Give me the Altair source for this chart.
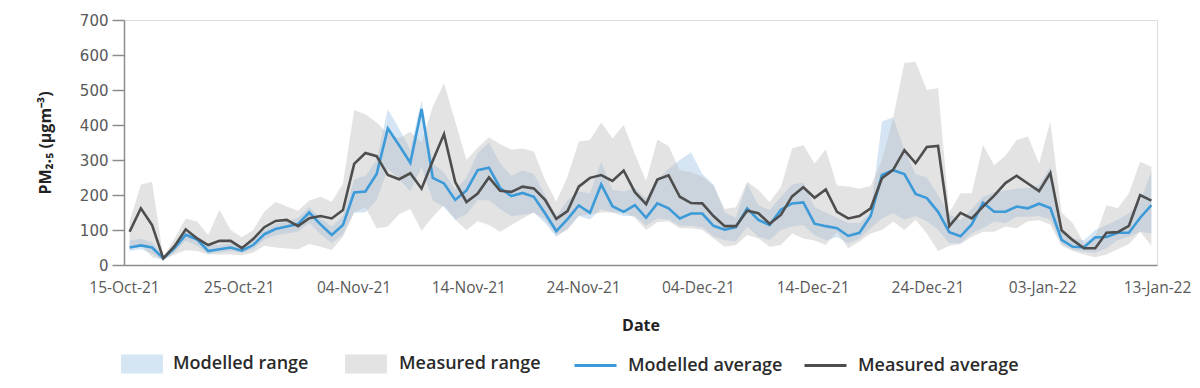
import json
import altair as alt
import pandas as pd

# ---------------- data ----------------
start_date = "2021-10-15"
n_days = 92
dates = pd.date_range(start_date, periods=n_days, freq="D")

tick_labels = ["15-Oct-21", "25-Oct-21", "04-Nov-21", "14-Nov-21", "24-Nov-21",
               "04-Dec-21", "14-Dec-21", "24-Dec-21", "03-Jan-22", "13-Jan-22"]

measured_avg = [95, 162, 114, 19, 54, 102, 76, 57, 69, 69,
                48, 74, 108, 126, 129, 111, 134, 140, 133, 157,
                289, 320, 311, 257, 245, 262, 218, 298, 374, 237,
                180, 204, 250, 212, 209, 224, 219, 186, 132, 154,
                224, 249, 257, 240, 270, 208, 174, 244, 256, 195,
                177, 176, 140, 111, 111, 155, 148, 118, 143, 196,
                222, 192, 216, 152, 133, 140, 162, 248, 272, 328,
                291, 337, 340, 111, 149, 133, 167, 198, 234, 255,
                233, 211, 263, 99, 71, 48, 48, 92, 94, 112,
                200, 184]

modelled_avg = [50, 56, 50, 19, 48, 86, 73, 40, 45, 50,
                41, 57, 88, 103, 110, 117, 150, 116, 86, 114,
                207, 210, 260, 390, 342, 292, 446, 249, 233, 186,
                213, 271, 278, 220, 197, 206, 195, 148, 97, 131,
                170, 149, 230, 168, 152, 171, 135, 176, 162, 133,
                147, 147, 112, 101, 108, 162, 129, 114, 158, 176,
                179, 118, 111, 105, 83, 92, 140, 257, 271, 260,
                203, 191, 152, 94, 82, 116, 178, 152, 152, 167,
                162, 175, 163, 72, 52, 51, 79, 80, 92, 92,
                135, 171]

measured_max = [124, 229, 238, 22, 76, 133, 124, 86, 157, 100,
                79, 100, 152, 181, 167, 155, 184, 195, 181, 233,
                443, 431, 407, 376, 362, 381, 350, 452, 519, 410,
                300, 335, 365, 345, 330, 333, 324, 243, 181, 252,
                352, 357, 407, 362, 400, 317, 240, 358, 340, 271,
                265, 252, 227, 160, 165, 238, 214, 180, 222, 333,
                343, 290, 331, 227, 224, 218, 226, 300, 420, 577,
                581, 500, 505, 150, 205, 205, 343, 285, 312, 357,
                367, 290, 410, 150, 119, 62, 81, 171, 162, 205,
                295, 281]

measured_min = [45, 60, 22, 14, 30, 42, 40, 30, 30, 30,
                28, 35, 55, 50, 47, 45, 60, 52, 43, 81,
                150, 165, 105, 110, 145, 160, 98, 138, 171, 129,
                100, 125, 114, 95, 114, 133, 150, 130, 85, 100,
                140, 145, 150, 150, 150, 135, 100, 122, 125, 105,
                105, 100, 76, 52, 57, 86, 76, 52, 57, 90,
                76, 70, 57, 95, 48, 67, 90, 100, 124, 100,
                129, 90, 40, 55, 60, 80, 95, 95, 110, 105,
                125, 128, 115, 55, 40, 30, 22, 30, 45, 60,
                95, 55]

modelled_max = [70, 75, 65, 24, 60, 95, 85, 55, 58, 62,
                55, 70, 100, 118, 125, 135, 165, 135, 110, 140,
                245, 255, 300, 445, 390, 330, 470, 290, 265, 215,
                250, 320, 350, 290, 255, 270, 260, 200, 140, 185,
                210, 205, 295, 215, 210, 220, 190, 245, 275, 300,
                322, 260, 230, 150, 135, 233, 171, 157, 195, 230,
                236, 165, 150, 135, 120, 120, 150, 410, 422, 330,
                260, 250, 200, 145, 128, 160, 195, 208, 213, 218,
                220, 228, 281, 100, 76, 71, 100, 114, 129, 148,
                181, 267]

modelled_min = [40, 45, 32, 14, 35, 70, 55, 32, 36, 40,
                34, 45, 72, 85, 90, 95, 120, 88, 62, 88,
                150, 150, 185, 275, 245, 210, 280, 185, 165, 130,
                145, 185, 185, 160, 140, 143, 150, 120, 80, 105,
                140, 130, 160, 150, 140, 140, 112, 133, 130, 112,
                112, 108, 82, 71, 67, 110, 81, 71, 100, 110,
                114, 85, 71, 80, 62, 75, 105, 133, 148, 130,
                140, 125, 100, 62, 62, 90, 105, 124, 119, 138,
                138, 140, 129, 60, 43, 38, 35, 48, 71, 81,
                95, 90]

band_names = ["Modelled range", "Measured range"]
band_colors = ["#d6e5f4", "#bdbdbd"]
measured_band_opacity = 0.42
line_names = ["Modelled average", "Measured average"]
line_colors = ["#3d9ad8", "#4e4e4e"]

day = list(range(n_days))
rng_mod = pd.DataFrame({"day": day, "date": dates, "band": band_names[0],
                        "lo": modelled_min, "hi": modelled_max})
rng_meas = pd.DataFrame({"day": day, "date": dates, "band": band_names[1],
                         "lo": measured_min, "hi": measured_max})
avg_mod = pd.DataFrame({"day": day, "date": dates, "series": line_names[0],
                        "value": modelled_avg})
avg_meas = pd.DataFrame({"day": day, "date": dates, "series": line_names[1],
                         "value": measured_avg})

# ---------------- encodings ----------------
FONT = "Open Sans"
n_ticks = len(tick_labels)
tick_pos = [-0.5 + k * n_days / (n_ticks - 1) for k in range(n_ticks)]
label_expr = (json.dumps(tick_labels)
              + f"[round((datum.value + 0.5) * {n_ticks - 1} / {n_days})]")

x_enc = alt.X(
    "day:Q",
    scale=alt.Scale(domain=[-0.5, n_days - 0.5], nice=False, zero=False),
    axis=alt.Axis(values=tick_pos, labelExpr=label_expr, ticks=False, grid=False,
                  labelFlush=False, labelPadding=15, labelFont=FONT,
                  labelFontSize=15.5, labelColor="#595959",
                  domainColor="#8c8c8c", domainWidth=1.5,
                  title="Date", titleY=60, titleBaseline="middle",
                  titleFont=FONT, titleFontSize=16, titleFontWeight="bold",
                  titleColor="#222222"),
)

y_axis = alt.Axis(values=list(range(0, 701, 100)), tickSize=12, tickWidth=1.5,
                  tickColor="#8c8c8c", domainColor="#8c8c8c", domainWidth=1.5,
                  labelFont="DejaVu Sans", labelFontSize=15, labelColor="#595959",
                  labelPadding=4, grid=False,
                  title="PM₂.₅ (μgm⁻³)", titleX=-79, titleY=122.5,
                  titleBaseline="middle", titleFont=FONT, titleFontSize=16,
                  titleFontWeight="bold", titleColor="#222222")
y_scale = alt.Scale(domain=[0, 700], nice=False)

LEG_Y = 323
legend_common = dict(title=None, orient="none", direction="horizontal",
                     labelFont=FONT, labelFontSize=18, labelFontWeight=600,
                     labelColor="#2b2b2b", labelLimit=0, padding=0,
                     symbolSize=1764, legendY=LEG_Y)
rect_symbol = "M-1,-0.45L1,-0.45L1,0.45L-1,0.45Z"


def band_layer(df, idx, x_off, label_off, opacity):
    return alt.Chart(df).mark_area(interpolate="linear", fillOpacity=opacity).encode(
        x=x_enc,
        y=alt.Y("lo:Q", scale=y_scale, axis=y_axis),
        y2="hi:Q",
        fill=alt.Fill("band:N",
                      scale=alt.Scale(domain=[band_names[idx]], range=[band_colors[idx]]),
                      legend=alt.Legend(legendX=x_off, labelOffset=label_off,
                                        symbolType=rect_symbol, symbolStrokeWidth=0,
                                        symbolOpacity=opacity, **legend_common)),
    )


def line_layer(df, idx, x_off, label_off):
    return alt.Chart(df).mark_line(strokeWidth=2.6, interpolate="linear").encode(
        x=x_enc,
        y=alt.Y("value:Q", scale=y_scale, axis=y_axis),
        stroke=alt.Stroke("series:N",
                          scale=alt.Scale(domain=[line_names[idx]], range=[line_colors[idx]]),
                          legend=alt.Legend(legendX=x_off, labelOffset=label_off,
                                            symbolType="stroke", symbolStrokeWidth=3,
                                            **legend_common)),
    )


chart = alt.layer(
    band_layer(rng_mod, 0, -3, 10, 1.0),
    band_layer(rng_meas, 1, 221, 12, measured_band_opacity),
    line_layer(avg_mod, 0, 449, 10),
    line_layer(avg_meas, 1, 679, 10),
).resolve_scale(
    fill="independent", stroke="independent"
).properties(
    width=1033,
    height=245,
    padding={"left": 116, "top": 12, "right": 35, "bottom": 115},
    autosize=alt.AutoSizeParams(type="none"),
).configure_view(stroke=None).configure(background="white")

chart.save("out.html", embed_options={"renderer": "svg", "actions": False})
